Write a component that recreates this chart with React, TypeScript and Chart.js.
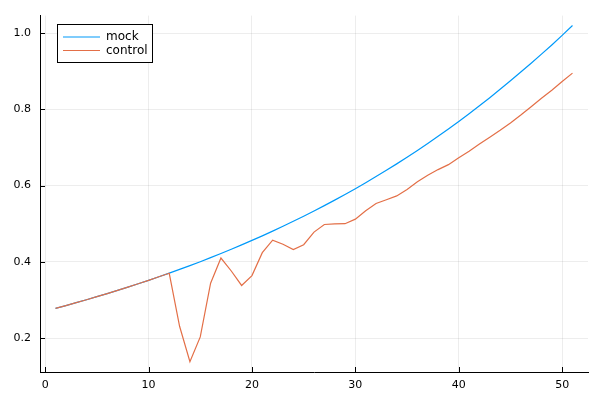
import React, { useEffect, useRef } from "react";
import { Chart, registerables } from "chart.js";

Chart.register(...registerables);

const xValues: number[] = Array.from({ length: 51 }, (_, i) => i + 1);

const mockValues: number[] = [
  0.278, 0.2853, 0.2929, 0.3006, 0.3086, 0.3167, 0.3251, 0.3336, 0.3425, 0.3515,
  0.3608, 0.3703, 0.3801, 0.3901, 0.4004, 0.411, 0.4219, 0.433, 0.4444, 0.4562,
  0.4682, 0.4806, 0.4933, 0.5063, 0.5197, 0.5334, 0.5475, 0.5619, 0.5768, 0.592,
  0.6076, 0.6237, 0.6401, 0.657, 0.6744, 0.6922, 0.7105, 0.7292, 0.7485, 0.7683,
  0.7885, 0.8094, 0.8307, 0.8527, 0.875, 0.898, 0.921, 0.945, 0.969, 0.994, 1.02,
];

const controlValues: number[] = [
  0.278, 0.2853, 0.2929, 0.3006, 0.3086, 0.3167, 0.3251, 0.3336, 0.3425, 0.3515,
  0.3608, 0.37, 0.231, 0.138, 0.203, 0.344, 0.41, 0.376, 0.338, 0.364,
  0.424, 0.457, 0.446, 0.432, 0.445, 0.478, 0.498, 0.4995, 0.5, 0.512,
  0.534, 0.553, 0.563, 0.573, 0.59, 0.61, 0.627, 0.642, 0.655, 0.673,
  0.69, 0.709, 0.727, 0.745, 0.764, 0.785, 0.807, 0.829, 0.85, 0.873, 0.895,
];

const seriesNames: string[] = ["mock", "control"];
const seriesColors: string[] = ["#009AFA", "#E36F47"];
const xTicks: number[] = [0, 10, 20, 30, 40, 50];
const yTicks: number[] = [0.2, 0.4, 0.6, 0.8, 1.0];

const FONT = "'DejaVu Sans', sans-serif";

const inwardTicks = {
  id: "inwardTicks",
  afterDraw(chart: any) {
    const ctx = chart.ctx;
    const xs = chart.scales.x;
    const ys = chart.scales.y;
    const area = chart.chartArea;
    ctx.save();
    ctx.strokeStyle = "#000";
    ctx.lineWidth = 1;
    ctx.beginPath();
    for (const v of yTicks) {
      const py = Math.round(ys.getPixelForValue(v)) + 0.5;
      ctx.moveTo(area.left, py);
      ctx.lineTo(area.left + 5, py);
    }
    for (const v of xTicks) {
      const px = Math.round(xs.getPixelForValue(v)) + 0.5;
      ctx.moveTo(px, area.bottom);
      ctx.lineTo(px, area.bottom - 5);
    }
    ctx.stroke();
    ctx.restore();
  },
};

const boxLegend = {
  id: "boxLegend",
  afterDraw(chart: any) {
    const ctx = chart.ctx;
    const left = 57.5;
    const top = 24.5;
    const w = 95;
    const h = 38;
    ctx.save();
    ctx.fillStyle = "#fff";
    ctx.fillRect(left, top, w, h);
    ctx.strokeStyle = "#000";
    ctx.lineWidth = 1;
    ctx.strokeRect(left, top, w, h);
    ctx.font = "12px " + FONT;
    ctx.textBaseline = "middle";
    ctx.textAlign = "left";
    chart.data.datasets.forEach((ds: any, i: number) => {
      const cy = 37 + i * 13.5;
      ctx.strokeStyle = ds.borderColor;
      ctx.lineWidth = 1.2;
      ctx.beginPath();
      ctx.moveTo(63, cy);
      ctx.lineTo(100, cy);
      ctx.stroke();
      ctx.fillStyle = "#000";
      ctx.fillText(ds.label, 106, cy);
    });
    ctx.restore();
  },
};

export default function App() {
  const ref = useRef<HTMLCanvasElement | null>(null);

  useEffect(() => {
    document.body.style.margin = "0";
    const canvas = ref.current;
    if (!canvas) return;
    const chart = new Chart(canvas, {
      type: "line",
      data: {
        datasets: [
          {
            label: seriesNames[0],
            data: xValues.map((x, i) => ({ x, y: mockValues[i] })),
            borderColor: seriesColors[0],
            backgroundColor: seriesColors[0],
            borderWidth: 1.2,
            pointRadius: 0,
            tension: 0,
            fill: false,
            order: 2,
          },
          {
            label: seriesNames[1],
            data: xValues.map((x, i) => ({ x, y: controlValues[i] })),
            borderColor: seriesColors[1],
            backgroundColor: seriesColors[1],
            borderWidth: 1.2,
            pointRadius: 0,
            tension: 0,
            fill: false,
            order: 1,
          },
        ],
      },
      options: {
        responsive: false,
        animation: false,
        layout: { padding: { left: 0, right: 12, top: 12, bottom: 0 } },
        plugins: {
          legend: { display: false },
          tooltip: { enabled: false },
        },
        scales: {
          x: {
            type: "linear",
            min: -0.5,
            max: 52.5,
            afterBuildTicks: (s: any) => {
              s.ticks = xTicks.map((v) => ({ value: v }));
            },
            afterFit: (s: any) => {
              s.height = 28;
            },
            grid: {
              color: "rgba(0,0,0,0.07)",
              lineWidth: 1,
              drawTicks: false,
            },
            border: { display: true, color: "#000", width: 1 },
            ticks: {
              font: { family: FONT, size: 11 },
              color: "#000",
              padding: 7,
              maxRotation: 0,
              callback: (v: any) => String(v),
            },
          },
          y: {
            type: "linear",
            min: 0.111,
            max: 1.046,
            afterBuildTicks: (s: any) => {
              s.ticks = yTicks.map((v) => ({ value: v }));
            },
            afterFit: (s: any) => {
              s.width = 40;
            },
            grid: {
              color: "rgba(0,0,0,0.07)",
              lineWidth: 1,
              drawTicks: false,
            },
            border: { display: true, color: "#000", width: 1 },
            ticks: {
              font: { family: FONT, size: 11 },
              color: "#000",
              padding: 9,
              callback: (v: any) => Number(v).toFixed(1),
            },
          },
        },
      },
      plugins: [inwardTicks, boxLegend],
    } as any);
    return () => chart.destroy();
  }, []);

  return (
    <div style={{ position: "absolute", left: 0, top: 0, width: 600, height: 400, background: "#fff" }}>
      <canvas ref={ref} width={600} height={400} style={{ width: 600, height: 400 }} />
    </div>
  );
}
